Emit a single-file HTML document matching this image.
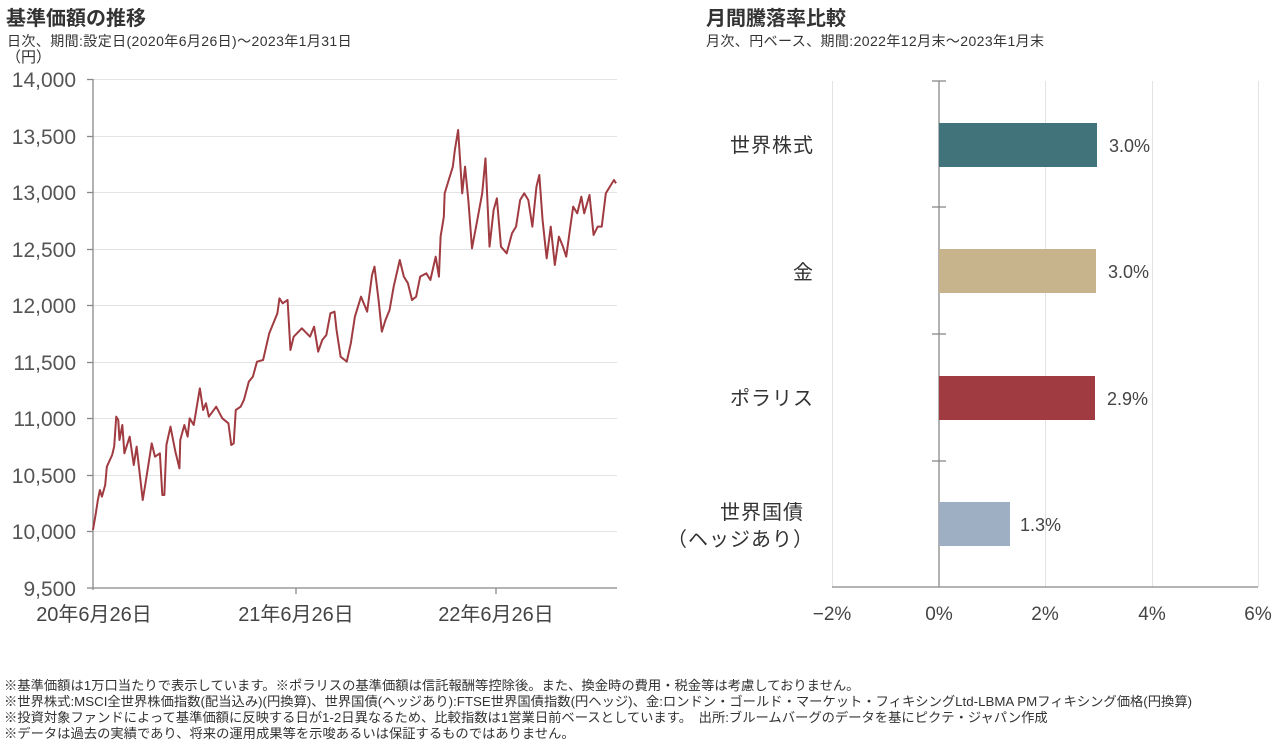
<!DOCTYPE html>
<html><head><meta charset="utf-8"><style>
body{margin:0;background:#fff;width:1280px;height:749px;overflow:hidden;font-family:"Liberation Sans","Noto Sans CJK JP",sans-serif;color:#333}
.t{position:absolute;white-space:nowrap}
</style></head><body>
<div class="t" style="left:6px;top:2px;font-size:20px;font-weight:bold;color:#333">基準価額の推移</div>
<div class="t" style="left:7px;top:31px;font-size:14px;letter-spacing:0.4px">日次、期間:設定日(2020年6月26日)～2023年1月31日</div>
<div class="t" style="left:6px;top:46px;font-size:15px">（円）</div>
<div class="t" style="left:706px;top:2px;font-size:20px;font-weight:bold">月間騰落率比較</div>
<div class="t" style="left:706px;top:31px;font-size:14px;letter-spacing:0.4px">月次、円ベース、期間:2022年12月末～2023年1月末</div>
<svg width="1280" height="749" style="position:absolute;left:0;top:0" font-family="Liberation Sans, Noto Sans CJK JP, sans-serif">
<g stroke="#e3e3e3" stroke-width="1">
<line x1="93" x2="617" y1="79.5" y2="79.5"/><line x1="93" x2="617" y1="136.5" y2="136.5"/><line x1="93" x2="617" y1="192.5" y2="192.5"/><line x1="93" x2="617" y1="249.5" y2="249.5"/><line x1="93" x2="617" y1="305.5" y2="305.5"/><line x1="93" x2="617" y1="362.5" y2="362.5"/><line x1="93" x2="617" y1="418.5" y2="418.5"/><line x1="93" x2="617" y1="475.5" y2="475.5"/><line x1="93" x2="617" y1="531.5" y2="531.5"/>
<line x1="832.5" x2="832.5" y1="81" y2="587"/><line x1="1045.5" x2="1045.5" y1="81" y2="587"/><line x1="1152.5" x2="1152.5" y1="81" y2="587"/><line x1="1258.5" x2="1258.5" y1="81" y2="587"/>
</g>
<g stroke="#888" stroke-width="1.3">
<line x1="93" x2="93" y1="79" y2="590"/><line x1="87" x2="617" y1="588" y2="588"/>
<line x1="87" x2="93" y1="79.5" y2="79.5"/><line x1="87" x2="93" y1="136.5" y2="136.5"/><line x1="87" x2="93" y1="192.5" y2="192.5"/><line x1="87" x2="93" y1="249.5" y2="249.5"/><line x1="87" x2="93" y1="305.5" y2="305.5"/><line x1="87" x2="93" y1="362.5" y2="362.5"/><line x1="87" x2="93" y1="418.5" y2="418.5"/><line x1="87" x2="93" y1="475.5" y2="475.5"/><line x1="87" x2="93" y1="531.5" y2="531.5"/>
<line x1="296" x2="296" y1="588" y2="594"/><line x1="496" x2="496" y1="588" y2="594"/>
<line x1="939" x2="939" y1="81" y2="587"/><line x1="832" x2="1258" y1="587" y2="587"/>
<line x1="932" x2="946" y1="81" y2="81"/><line x1="932" x2="946" y1="207" y2="207"/><line x1="932" x2="946" y1="334" y2="334"/><line x1="932" x2="946" y1="461" y2="461"/>
</g>
<g font-size="21" fill="#555" text-anchor="end">
<text x="76" y="87">14,000</text><text x="76" y="144">13,500</text><text x="76" y="200">13,000</text><text x="76" y="257">12,500</text><text x="76" y="313">12,000</text><text x="76" y="370">11,500</text><text x="76" y="426">11,000</text><text x="76" y="483">10,500</text><text x="76" y="539">10,000</text><text x="76" y="596">9,500</text>
</g>
<g font-size="20" fill="#444" text-anchor="middle">
<text x="94" y="621">20年6月26日</text><text x="296" y="621">21年6月26日</text><text x="496" y="621">22年6月26日</text>
</g>
<g font-size="19" fill="#444" text-anchor="middle">
<text x="832" y="620">−2%</text><text x="939" y="620">0%</text><text x="1045" y="620">2%</text><text x="1152" y="620">4%</text><text x="1258" y="620">6%</text>
</g>
<g transform="translate(-0.06,0) scale(0.408,0.33333)">
<polyline fill="none" stroke="#a03c41" stroke-width="2" vector-effect="non-scaling-stroke" stroke-linejoin="round" points="228,1590 235,1540 240,1500 245,1470 250,1490 258,1455 262,1400 275,1365 280,1340 285,1250 290,1260 293,1320 300,1275 305,1360 318,1310 328,1395 335,1340 350,1500 358,1440 372,1330 380,1370 392,1360 398,1485 403,1485 408,1335 418,1280 430,1355 440,1405 442,1320 452,1275 460,1310 465,1255 475,1275 490,1165 498,1230 505,1210 512,1250 530,1220 545,1255 560,1270 567,1335 573,1330 578,1230 590,1220 598,1200 610,1145 620,1130 630,1085 645,1080 660,1000 670,970 680,940 685,895 693,910 705,900 712,1050 720,1010 740,985 760,1010 770,980 780,1055 790,1020 800,1005 810,940 820,935 825,990 835,1070 850,1085 860,1030 870,950 885,890 900,935 912,825 918,800 928,900 936,995 945,960 955,930 965,860 980,780 990,830 1000,850 1010,900 1020,890 1030,830 1045,820 1055,840 1068,770 1076,830 1080,710 1088,650 1090,580 1100,540 1110,500 1115,450 1123,390 1133,580 1140,500 1148,600 1157,745 1170,660 1182,580 1190,475 1200,740 1210,630 1218,595 1228,740 1242,760 1255,700 1265,680 1275,600 1285,580 1295,600 1305,680 1315,560 1322,525 1330,660 1340,775 1350,680 1360,795 1370,710 1380,740 1388,770 1398,680 1405,620 1415,640 1425,590 1432,640 1445,585 1455,705 1465,680 1475,680 1485,580 1495,560 1505,540 1510,550"/>
</g>
<rect x="939" y="123" width="158" height="44" fill="#41737a"/>
<rect x="939" y="249" width="157" height="44" fill="#c8b48c"/>
<rect x="939" y="376" width="156" height="44" fill="#a03c41"/>
<rect x="939" y="502" width="71" height="44" fill="#9eafc4"/>
<g font-size="18" fill="#444">
<text x="1109" y="152">3.0%</text><text x="1108" y="278">3.0%</text><text x="1107" y="405">2.9%</text><text x="1020" y="531">1.3%</text>
</g>
<g font-size="20" fill="#333" text-anchor="end" letter-spacing="1">
<text x="814" y="152">世界株式</text><text x="814" y="279">金</text><text x="814" y="405">ポラリス</text><text x="804" y="519">世界国債</text><text x="814" y="546">（ヘッジあり）</text>
</g>
</svg>
<div class="t" style="left:4px;top:678px;font-size:13.3px;line-height:16px;color:#333">※基準価額は1万口当たりで表示しています。※ポラリスの基準価額は信託報酬等控除後。また、換金時の費用・税金等は考慮しておりません。<br>※世界株式:MSCI全世界株価指数(配当込み)(円換算)、世界国債(ヘッジあり):FTSE世界国債指数(円ヘッジ)、金:ロンドン・ゴールド・マーケット・フィキシングLtd-LBMA PMフィキシング価格(円換算)<br>※投資対象ファンドによって基準価額に反映する日が1-2日異なるため、比較指数は1営業日前ベースとしています。　出所:ブルームバーグのデータを基にピクテ・ジャパン作成<br>※データは過去の実績であり、将来の運用成果等を示唆あるいは保証するものではありません。</div>
</body></html>
